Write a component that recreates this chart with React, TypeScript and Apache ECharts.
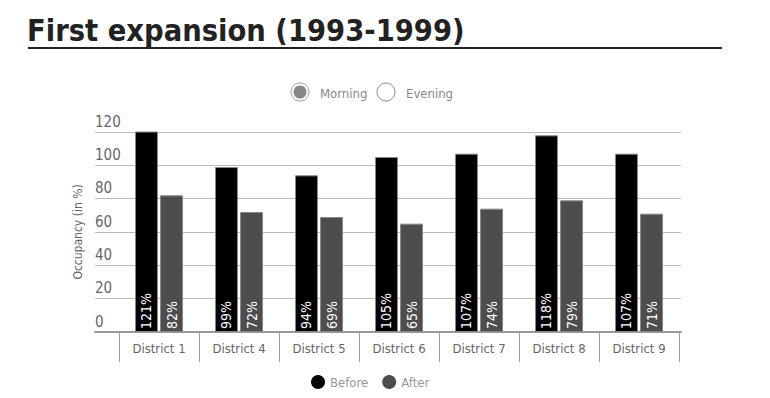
import React, { useEffect, useRef } from "react";
import * as echarts from "echarts";

const categories = ["District 1", "District 4", "District 5", "District 6", "District 7", "District 8", "District 9"];
const beforeValues = [121, 99, 94, 105, 107, 118, 107];
const afterValues = [82, 72, 69, 65, 74, 79, 71];
const seriesNames = ["Before", "After"];
const yTicks = { min: 0, max: 120, interval: 20 };
const titleText = "First expansion (1993-1999)";
const yAxisName = "Occupancy (in %)";
const radioLabels = ["Morning", "Evening"];

const NARROW = "'DejaVu Sans Condensed', 'DejaVu Sans', sans-serif";

export default function App() {
  const ref = useRef<HTMLDivElement>(null);
  useEffect(() => {
    document.body.style.margin = "0";
    const chart = echarts.init(ref.current!, null, { renderer: "svg" });
    const barLabel = {
      show: true,
      position: "insideBottom",
      rotate: 90,
      align: "left",
      verticalAlign: "middle",
      distance: 3,
      color: "#fff",
      fontSize: 14,
      fontFamily: NARROW,
      formatter: "{c}%",
    };
    chart.setOption({
      animation: false,
      backgroundColor: "#fff",
      textStyle: { fontFamily: NARROW },
      graphic: [
        {
          type: "text",
          left: 27,
          top: 15,
          style: { text: titleText, fill: "#222", font: `bold 30.5px ${NARROW}` },
        },
        { type: "line", shape: { x1: 28, y1: 48, x2: 722, y2: 48 }, style: { stroke: "#222", lineWidth: 2 } },
        { type: "circle", shape: { cx: 300, cy: 92, r: 9 }, style: { fill: "#fff", stroke: "#999", lineWidth: 1 } },
        { type: "circle", shape: { cx: 300, cy: 92, r: 6.5 }, style: { fill: "#888" } },
        { type: "text", x: 320, y: 93, style: { text: radioLabels[0], fill: "#888", font: `13px ${NARROW}`, verticalAlign: "middle" } },
        { type: "circle", shape: { cx: 386, cy: 92, r: 9 }, style: { fill: "#fff", stroke: "#888", lineWidth: 1 } },
        { type: "text", x: 406, y: 93, style: { text: radioLabels[1], fill: "#888", font: `13px ${NARROW}`, verticalAlign: "middle" } },
      ],
      legend: {
        data: seriesNames,
        left: 311,
        top: 375,
        padding: 0,
        icon: "circle",
        itemWidth: 14,
        itemHeight: 14,
        itemGap: 14,
        selectedMode: false,
        itemStyle: { borderWidth: 0 },
        textStyle: { color: "#999", fontSize: 13, fontFamily: NARROW },
      },
      grid: [
        { left: 95, top: 132, width: 586, height: 200 },
        { left: 119, top: 132, width: 560, height: 200 },
      ],
      xAxis: [
        {
          gridIndex: 0,
          type: "value",
          min: 0,
          max: 1,
          axisLine: { show: true, lineStyle: { color: "#999", width: 2 } },
          axisLabel: { show: false },
          axisTick: { show: false },
          splitLine: { show: false },
        },
        {
          gridIndex: 1,
          type: "category",
          data: categories,
          axisLine: { show: false },
          axisTick: { show: true, length: 30, lineStyle: { color: "#999" } },
          axisLabel: { color: "#666", fontSize: 13, margin: 10, fontFamily: NARROW },
        },
      ],
      yAxis: [
        {
          gridIndex: 0,
          type: "value",
          min: yTicks.min,
          max: yTicks.max,
          interval: yTicks.interval,
          name: yAxisName,
          nameLocation: "middle",
          nameRotate: 90,
          nameGap: 2,
          nameTextStyle: { color: "#666", fontSize: 12, fontFamily: NARROW },
          axisLine: { show: false },
          axisTick: { show: false },
          axisLabel: { inside: true, margin: 0, verticalAlign: "bottom", padding: [0, 0, 3, 0], color: "#666", fontSize: 15, fontFamily: NARROW },
          splitLine: { lineStyle: { color: "#bbb" } },
        },
        { gridIndex: 1, type: "value", min: yTicks.min, max: yTicks.max, interval: yTicks.interval, show: false, splitLine: { show: false } },
      ],
      series: [
        {
          name: seriesNames[0],
          type: "bar",
          xAxisIndex: 1,
          yAxisIndex: 1,
          data: beforeValues,
          barWidth: 23,
          barGap: "9%",
          itemStyle: { color: "#000", borderColor: "#888", borderWidth: 1 },
          label: barLabel,
        },
        {
          name: seriesNames[1],
          type: "bar",
          xAxisIndex: 1,
          yAxisIndex: 1,
          data: afterValues,
          barWidth: 23,
          itemStyle: { color: "#4d4d4d", borderColor: "#888", borderWidth: 1 },
          label: barLabel,
        },
      ],
    });
    return () => chart.dispose();
  }, []);
  return <div ref={ref} style={{ position: "absolute", left: 0, top: 0, width: 770, height: 398 }} />;
}
